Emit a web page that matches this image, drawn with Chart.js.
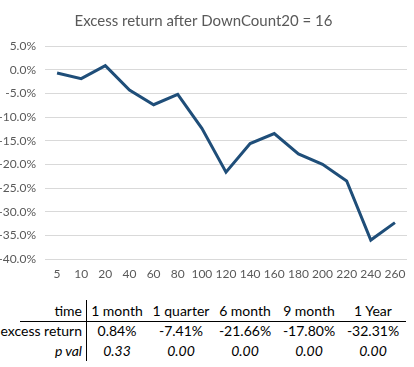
<!DOCTYPE html>
<html>
<head>
<meta charset="utf-8">
<script src="https://cdn.jsdelivr.net/npm/chart.js@4"></script>
<style>
    body { margin: 0; background: #fff; width: 414px; height: 367px; overflow: hidden; position: relative; }
    #chartBox { position: absolute; left: 0; top: 0; width: 414px; height: 290px; }
    .stats { position: absolute; left: 0; top: 300px; width: 414px; height: 62px; font-family: Lato, sans-serif; font-size: 14px; color: #000; }
    .stats div { position: absolute; white-space: nowrap; }
    .vline { left: 86px; top: 0; width: 1px; height: 61px; background: #000; }
    .hline { left: 20px; top: 21px; width: 386px; height: 1px; background: #000; }
    .lbl { right: 332px; text-align: right; }
    .cell { width: 80px; margin-left: -40px; text-align: center; }
    .it { font-style: italic; }
</style>
</head>
<body>
<div id="chartBox"><canvas id="excessChart" width="414" height="290"></canvas></div>
<div class="stats" id="stats"></div>
<script>
const days = ['5', '10', '20', '40', '60', '80', '100', '120', '140', '160', '180', '200', '220', '240', '260'];
const excessReturn = [-0.7, -1.9, 0.84, -4.3, -7.41, -5.2, -12.4, -21.66, -15.6, -13.5, -17.80, -20.0, -23.5, -36.0, -32.31];

const periods = ['1 month', '1 quarter', '6 month', '9 month', '1 Year'];
const periodReturns = ['0.84%', '-7.41%', '-21.66%', '-17.80%', '-32.31%'];
const pValues = ['0.33', '0.00', '0.00', '0.00', '0.00'];

const textColor = '#595959';
const gridColor = '#d9d9d9';

function renderTable() {
    const stats = document.getElementById('stats');
    const colX = [117, 181, 245, 309, 373];
    const rowY = [2, 22, 42];
    let html = '<div class="vline"></div><div class="hline"></div>';
    html += `<div class="lbl" style="top:${rowY[0]}px">time</div>`;
    html += `<div class="lbl" style="top:${rowY[1]}px">excess return</div>`;
    html += `<div class="lbl it" style="top:${rowY[2]}px">p val</div>`;
    periods.forEach((p, i) => {
        html += `<div class="cell" style="left:${colX[i]}px;top:${rowY[0]}px">${p}</div>`;
        html += `<div class="cell" style="left:${colX[i]}px;top:${rowY[1]}px">${periodReturns[i]}</div>`;
        html += `<div class="cell it" style="left:${colX[i]}px;top:${rowY[2]}px">${pValues[i]}</div>`;
    });
    stats.innerHTML = html;
}

function renderChart() {
    new Chart(document.getElementById('excessChart'), {
        type: 'line',
        data: {
            labels: days,
            datasets: [{
                data: excessReturn,
                borderColor: '#1f4e79',
                borderWidth: 3,
                pointRadius: 0,
                tension: 0,
                fill: false
            }]
        },
        options: {
            responsive: false,
            animation: false,
            layout: { padding: { left: 0, right: 7, top: 0, bottom: 7 } },
            plugins: {
                legend: { display: false },
                tooltip: { enabled: false },
                title: {
                    display: true,
                    text: 'Excess return after DownCount20 = 16',
                    color: textColor,
                    font: { family: 'Lato', size: 15, weight: 'normal' },
                    padding: { top: 12, bottom: 16 }
                }
            },
            scales: {
                x: {
                    offset: true,
                    afterFit: axis => { axis.height = 24; },
                    grid: { display: false },
                    border: { display: false },
                    ticks: { color: textColor, font: { family: 'Lato', size: 12 }, padding: 0, maxRotation: 0, autoSkip: false }
                },
                y: {
                    min: -40,
                    max: 5,
                    afterFit: axis => { axis.width = 45; },
                    grid: { color: gridColor, drawTicks: false },
                    border: { display: false },
                    ticks: {
                        stepSize: 5,
                        color: textColor,
                        font: { family: 'Lato', size: 12 },
                        padding: 9,
                        callback: v => v.toFixed(1) + '%'
                    }
                }
            }
        }
    });
}

renderChart();
renderTable();
</script>
</body>
</html>
